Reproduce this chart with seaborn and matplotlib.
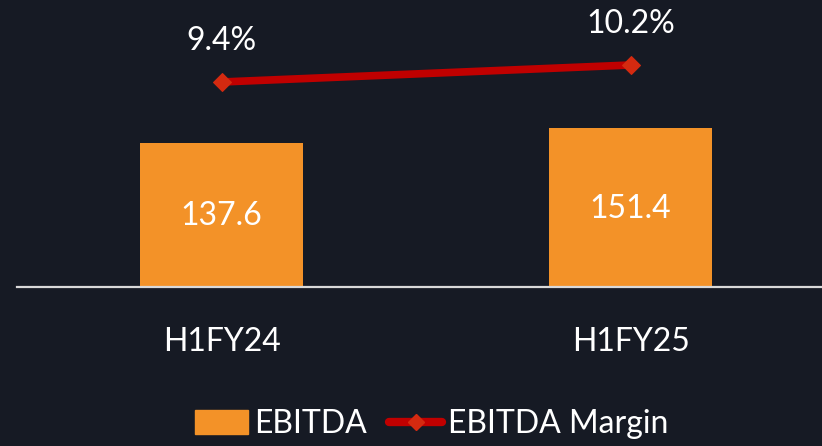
import matplotlib
matplotlib.use("Agg")
import matplotlib.pyplot as plt
import seaborn as sns
import numpy as np
import pandas as pd
from matplotlib.patches import Patch
from matplotlib.lines import Line2D

categories = ["H1FY24", "H1FY25"]
ebitda = [137.6, 151.4]
margin = [9.4, 10.2]
ebitda_labels = ["137.6", "151.4"]
margin_labels = ["9.4%", "10.2%"]

BG = "#161a24"
ORANGE = "#f39228"
RED = "#c00000"
MARK = "#d42a10"
FONT = ["Lato", "DejaVu Sans"]
FS = 23

sns.set_theme(style="white")
plt.rcParams["font.family"] = FONT

fig = plt.figure(figsize=(8.22, 4.46), dpi=100, facecolor=BG)
W, H = 822, 446
left, right, bottom, top = 17, 822, 287, 20
ax = fig.add_axes([left / W, 1 - bottom / H, (right - left) / W, (bottom - top) / H])
ax.set_facecolor(BG)

df = pd.DataFrame({"cat": categories, "val": ebitda})
sns.barplot(data=df, x="cat", y="val", color=ORANGE, saturation=1, width=0.4,
            linewidth=0, edgecolor=ORANGE, ax=ax)
ax.set_xlim(-0.5, 1.468)
ax.set_ylim(0, (bottom - top) / 1.047)
for i, t in enumerate(ebitda_labels):
    ax.text(i, ebitda[i] * 0.49, t, ha="center", va="center", color="white", fontsize=FS)

for s in ["top", "left", "right"]:
    ax.spines[s].set_visible(False)
ax.spines["bottom"].set_color("#d9d9d9")
ax.spines["bottom"].set_linewidth(1.6)
ax.spines["bottom"].set_zorder(5)
ax.set_yticks([])
ax.set_xlabel("")
ax.set_ylabel("")
ax.tick_params(axis="x", length=0, pad=29, colors="white", labelsize=FS)

ax2 = ax.twinx()
ax2.set_ylim(9.4 - 205 / 21.25, 9.4 + 62 / 21.25)
x = np.arange(len(categories))
sns.lineplot(x=x, y=margin, ax=ax2, color=RED, linewidth=5.5, marker="D",
             markersize=9, markerfacecolor=MARK, markeredgecolor=MARK, legend=False)
ax2.set_yticks([])
for s in ax2.spines.values():
    s.set_visible(False)
for i, t in enumerate(margin_labels):
    ax2.text(i, margin[i] + 1.22, t, ha="center", va="bottom", color="white", fontsize=FS)

handles = [Patch(facecolor=ORANGE, edgecolor=ORANGE, label="EBITDA"),
           Line2D([0], [0], color=RED, linewidth=6, marker="D", markersize=8,
                  markerfacecolor=MARK, markeredgecolor=MARK, label="EBITDA Margin",
                  solid_capstyle="round")]
leg = fig.legend(handles=handles, loc="center", bbox_to_anchor=(432 / W, 1 - 424 / H),
                 ncol=2, frameon=False, fontsize=FS, handlelength=1.65, handleheight=0.75,
                 handletextpad=0.2, columnspacing=0.7, borderpad=0)
for t in leg.get_texts():
    t.set_color("white")

fig.savefig("out.png", dpi=100, facecolor=BG)
